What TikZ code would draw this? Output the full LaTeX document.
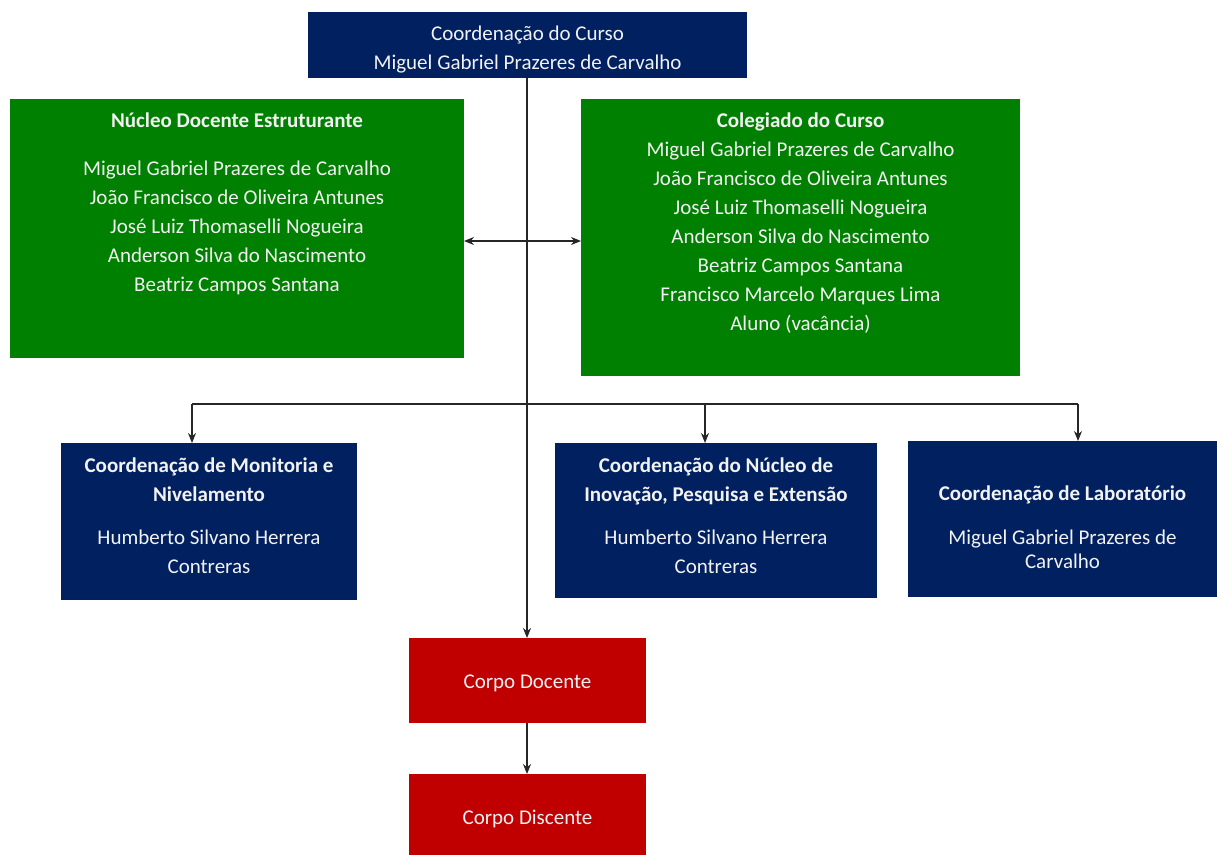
\documentclass[tikz,border=0pt]{standalone}
\usepackage{fontspec}
\setmainfont{Carlito}
\usetikzlibrary{arrows.meta}
\definecolor{navy}{HTML}{002060}
\definecolor{grn}{HTML}{008000}
\definecolor{rd}{HTML}{C00000}
\definecolor{txtw}{HTML}{F2F2F2}
\tikzset{
  box/.style={draw=none, inner sep=0pt, outer sep=0pt},
  navybox/.style={box, fill=navy},
  greenbox/.style={box, fill=grn},
  redbox/.style={box, fill=rd},
  label text/.style={text=txtw, align=center, inner sep=0pt, font=\fontsize{21}{29}\selectfont},
  conn/.style={draw=black!85, line width=1.3pt},
  arr/.style={conn, -{Stealth[length=10pt,width=8pt]}},
  darr/.style={conn, {Stealth[length=10pt,width=8pt]}-{Stealth[length=10pt,width=8pt]}},
}
\begin{document}
\begin{tikzpicture}[x=1pt,y=-1pt]
\useasboundingbox (0,0) rectangle (1217,854);
\fill[white] (0,0) rectangle (1217,854);

% boxes
\node[navybox, minimum width=439pt, minimum height=66pt] (top) at (527.5,45) {};
\node[greenbox, minimum width=454pt, minimum height=259pt] (nde) at (237,228.5) {};
\node[greenbox, minimum width=439pt, minimum height=277pt] (col) at (800.5,237.5) {};
\node[navybox, minimum width=296pt, minimum height=157pt] (mon) at (209,521.5) {};
\node[navybox, minimum width=322pt, minimum height=155pt] (nuc) at (716,520.5) {};
\node[navybox, minimum width=309pt, minimum height=156pt] (lab) at (1062.5,519) {};
\node[redbox, minimum width=237pt, minimum height=85pt] (doc) at (527.5,680.5) {};
\node[redbox, minimum width=237pt, minimum height=81pt] (dis) at (527.5,814.5) {};

% texts
\node[label text] (toptxt) at (527.5,49.5) {Coordenação do Curso\\Miguel Gabriel Prazeres de Carvalho};
\node[label text] (ndetxt) at (237,204) {\textbf{Núcleo Docente Estruturante}\\[19pt]Miguel Gabriel Prazeres de Carvalho\\João Francisco de Oliveira Antunes\\José Luiz Thomaselli Nogueira\\Anderson Silva do Nascimento\\Beatriz Campos Santana};
\node[label text] (coltxt) at (800.5,223.5) {\textbf{Colegiado do Curso}\\Miguel Gabriel Prazeres de Carvalho\\João Francisco de Oliveira Antunes\\José Luiz Thomaselli Nogueira\\Anderson Silva do Nascimento\\Beatriz Campos Santana\\Francisco Marcelo Marques Lima\\Aluno (vacância)};
\node[label text] (montxt) at (209,515.5) {\textbf{Coordenação de Monitoria e}\\\textbf{Nivelamento}\\[14pt]Humberto Silvano Herrera\\Contreras};
\node[label text] (nuctxt) at (716,515.5) {\textbf{Coordenação do Núcleo de}\\\textbf{Inovação, Pesquisa e Extensão}\\[14pt]Humberto Silvano Herrera\\Contreras};
\node[label text] (labtxt) at (1062.5,527) {\textbf{Coordenação de Laboratório}\\[15pt]Miguel Gabriel Prazeres de\\[-5pt]Carvalho};
\node[label text] (doctxt) at (527.5,683.5) {Corpo Docente};
\node[label text] (distxt) at (527.5,818.5) {Corpo Discente};

% connectors
\coordinate (j1) at (527,241);
\coordinate (b1) at (192,404);
\coordinate (b2) at (705,404);
\coordinate (b3) at (1078,404);
\draw[arr] (top.south -| j1) -- (doc.north -| j1);
\draw[darr] (nde.east |- j1) -- (col.west |- j1);
\draw[conn] (b1) -- (b3);
\draw[arr] (b1) -- (b1 |- mon.north);
\draw[arr] (b2) -- (b2 |- nuc.north);
\draw[arr] (b3) -- (b3 |- lab.north);
\draw[arr] (doc.south -| j1) -- (dis.north -| j1);
\end{tikzpicture}
\end{document}
